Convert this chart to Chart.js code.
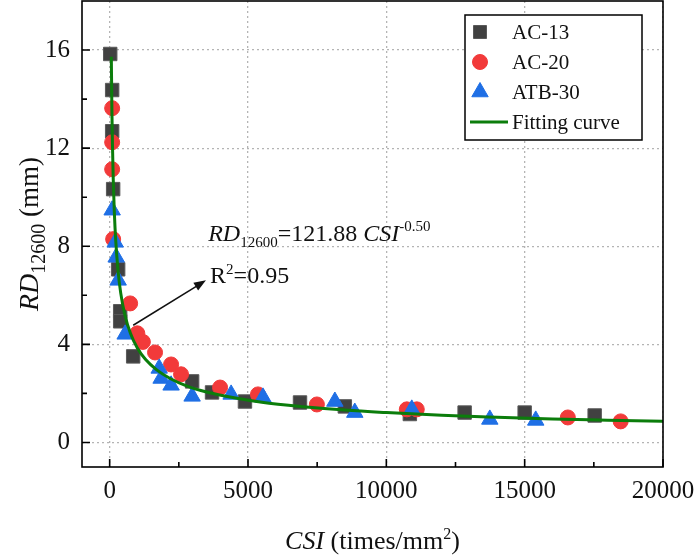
<!DOCTYPE html>
<html>
<head>
<meta charset="utf-8">
<script src="https://cdn.jsdelivr.net/npm/chart.js@4.4.0/dist/chart.umd.min.js"></script>
<style>
  html, body { margin: 0; padding: 0; background: #fff; }
</style>
</head>
<body>
<canvas id="chart" width="700" height="559"></canvas>
<script>
// values
var ac13X = [20, 90, 90, 126, 307, 380, 380, 850, 2980, 3700, 4890, 6880, 8500, 10850, 12830, 15000, 17530];
var ac13Y = [15.84, 14.37, 12.69, 10.33, 7.06, 5.35, 4.94, 3.51, 2.49, 2.04, 1.67, 1.63, 1.47, 1.16, 1.22, 1.22, 1.10];

var ac20X = [90, 90, 90, 126, 740, 1000, 1200, 1640, 2220, 2580, 3990, 5360, 7490, 10740, 11100, 16560, 18470];
var ac20Y = [13.63, 12.24, 11.14, 8.29, 5.67, 4.45, 4.10, 3.67, 3.18, 2.78, 2.24, 1.96, 1.55, 1.35, 1.35, 1.02, 0.86];

var atb30X = [90, 200, 235, 307, 560, 1790, 1860, 2220, 2980, 4390, 5540, 8140, 8860, 10920, 13740, 15400];
var atb30Y = [9.47, 8.16, 7.55, 6.61, 4.41, 3.02, 2.61, 2.33, 1.88, 1.96, 1.84, 1.67, 1.22, 1.35, 0.94, 0.90];

var fitX = [60, 80, 100, 130, 170, 220, 300, 400, 550, 750, 1000, 1300, 1700, 2200, 2800, 3500, 4500, 5500, 7000, 8500, 10000, 12000, 14000, 16000, 18000, 20000];
var fitY = [15.73, 13.63, 12.19, 10.69, 9.35, 8.22, 7.04, 6.09, 5.20, 4.45, 3.85, 3.38, 2.96, 2.60, 2.30, 2.06, 1.82, 1.64, 1.46, 1.32, 1.22, 1.11, 1.03, 0.96, 0.91, 0.86];

var xTicks = [0, 5000, 10000, 15000, 20000];
var xMinor = [2500, 7500, 12500, 17500];
var yTicks = [0, 4, 8, 12, 16];
var yMinor = [2, 6, 10, 14];

var seriesNames = ["AC-13", "AC-20", "ATB-30", "Fitting curve"];

var SERIF = "'Liberation Serif', 'Times New Roman', serif";
var GREEN = "#0b7d0b";

function pts(xs, ys) {
	var out = [];
	for (let i = 0; i < xs.length; i++) {
		out.push({x: xs[i], y: ys[i]});
	}
	return out;
}

// text made of pieces (italic, sub, sup)
function runsWidth(ctx, runs) {
	var w = 0;
	runs.forEach(function(r) {
		ctx.font = r.font;
		w += ctx.measureText(r.t).width;
	});
	return w;
}
function drawRuns(ctx, runs, x, y) {
	runs.forEach(function(r) {
		ctx.font = r.font;
		ctx.fillText(r.t, x, y + (r.dy || 0));
		x += ctx.measureText(r.t).width;
	});
}

var extras = {
	id: "extras",
	afterDraw: function(chart) {
		var ctx = chart.ctx;
		var a = chart.chartArea;
		var xs = chart.scales.x, ys = chart.scales.y;
		ctx.save();

		// frame
		ctx.strokeStyle = "#000";
		ctx.lineWidth = 1.6;
		ctx.strokeRect(a.left, a.top, a.right - a.left, a.bottom - a.top);

		// inward ticks
		ctx.beginPath();
		xTicks.forEach(function(v) {
			var p = xs.getPixelForValue(v);
			ctx.moveTo(p, a.bottom); ctx.lineTo(p, a.bottom - 8);
		});
		xMinor.forEach(function(v) {
			var p = xs.getPixelForValue(v);
			ctx.moveTo(p, a.bottom); ctx.lineTo(p, a.bottom - 5);
		});
		yTicks.forEach(function(v) {
			var p = ys.getPixelForValue(v);
			ctx.moveTo(a.left, p); ctx.lineTo(a.left + 8, p);
		});
		yMinor.forEach(function(v) {
			var p = ys.getPixelForValue(v);
			ctx.moveTo(a.left, p); ctx.lineTo(a.left + 5, p);
		});
		ctx.stroke();

		ctx.fillStyle = "#111";
		ctx.textBaseline = "alphabetic";
		ctx.textAlign = "left";

		// y title
		var yRuns = [
			{t: "RD", font: "italic 28px " + SERIF},
			{t: "12600", font: "20px " + SERIF, dy: 7},
			{t: " (mm)", font: "27px " + SERIF}
		];
		ctx.save();
		ctx.translate(38, (a.top + a.bottom) / 2);
		ctx.rotate(-Math.PI / 2);
		drawRuns(ctx, yRuns, -runsWidth(ctx, yRuns) / 2, 0);
		ctx.restore();

		// x title
		var xRuns = [
			{t: "CSI", font: "italic 26px " + SERIF},
			{t: " (times/mm", font: "26px " + SERIF},
			{t: "2", font: "16px " + SERIF, dy: -10},
			{t: ")", font: "26px " + SERIF}
		];
		drawRuns(ctx, xRuns, (a.left + a.right) / 2 - runsWidth(ctx, xRuns) / 2, 549);

		// fitted equation and arrow
		var eqRuns = [
			{t: "RD", font: "italic 24px " + SERIF},
			{t: "12600", font: "15px " + SERIF, dy: 6},
			{t: "=121.88 ", font: "24px " + SERIF},
			{t: "CSI", font: "italic 24px " + SERIF},
			{t: "-0.50", font: "15px " + SERIF, dy: -10}
		];
		drawRuns(ctx, eqRuns, xs.getPixelForValue(3560), ys.getPixelForValue(8.2));
		var r2Runs = [
			{t: "R", font: "24px " + SERIF},
			{t: "2", font: "15px " + SERIF, dy: -9},
			{t: "=0.95", font: "24px " + SERIF}
		];
		drawRuns(ctx, r2Runs, xs.getPixelForValue(3630), ys.getPixelForValue(6.5));

		var x0 = xs.getPixelForValue(850), y0 = ys.getPixelForValue(4.78);
		var x1 = xs.getPixelForValue(3480), y1 = ys.getPixelForValue(6.61);
		var ang = Math.atan2(y1 - y0, x1 - x0);
		ctx.strokeStyle = "#111";
		ctx.lineWidth = 1.5;
		ctx.beginPath();
		ctx.moveTo(x0, y0);
		ctx.lineTo(x1 - 8 * Math.cos(ang), y1 - 8 * Math.sin(ang));
		ctx.stroke();
		ctx.beginPath();
		ctx.moveTo(x1, y1);
		ctx.lineTo(x1 - 12 * Math.cos(ang) + 4.5 * Math.sin(ang), y1 - 12 * Math.sin(ang) - 4.5 * Math.cos(ang));
		ctx.lineTo(x1 - 12 * Math.cos(ang) - 4.5 * Math.sin(ang), y1 - 12 * Math.sin(ang) + 4.5 * Math.cos(ang));
		ctx.closePath();
		ctx.fill();

		// legend
		var lx = 465, ly = 15, lw = 177, lh = 125;
		ctx.fillStyle = "#fff";
		ctx.fillRect(lx, ly, lw, lh);
		ctx.strokeStyle = "#000";
		ctx.lineWidth = 1.5;
		ctx.strokeRect(lx, ly, lw, lh);
		var ds = chart.data.datasets;
		for (let i = 0; i < seriesNames.length; i++) {
			var cy = 32 + i * 30;
			var cx = 480;
			ctx.fillStyle = ds[i].backgroundColor;
			ctx.strokeStyle = ds[i].borderColor;
			ctx.lineWidth = 1;
			ctx.beginPath();
			if (ds[i].pointStyle === "rect") {
				ctx.rect(cx - 6.5, cy - 6.5, 13, 13);
				ctx.fill(); ctx.stroke();
			} else if (ds[i].pointStyle === "circle") {
				ctx.arc(cx, cy, 7.5, 0, Math.PI * 2);
				ctx.fill(); ctx.stroke();
			} else if (ds[i].pointStyle === "triangle") {
				ctx.moveTo(cx, cy - 9.5);
				ctx.lineTo(cx + 8.2, cy + 4.75);
				ctx.lineTo(cx - 8.2, cy + 4.75);
				ctx.closePath();
				ctx.fill(); ctx.stroke();
			} else {
				ctx.strokeStyle = GREEN;
				ctx.lineWidth = 3;
				ctx.moveTo(470, cy);
				ctx.lineTo(508, cy);
				ctx.stroke();
			}
			ctx.fillStyle = "#111";
			ctx.font = "21px " + SERIF;
			ctx.textBaseline = "middle";
			ctx.fillText(seriesNames[i], 512, cy + 1);
		}
		ctx.restore();
	}
};

var axisFont = {family: SERIF, size: 25};

var chart = new Chart(document.getElementById("chart"), {
	type: "scatter",
	data: {
		datasets: [{
			label: seriesNames[0],
			data: pts(ac13X, ac13Y),
			pointStyle: "rect",
			pointRadius: 9.5,
			backgroundColor: "#414141",
			borderColor: "#5a5a5a",
			borderWidth: 1,
			order: 3
		}, {
			label: seriesNames[1],
			data: pts(ac20X, ac20Y),
			pointStyle: "circle",
			pointRadius: 7.5,
			backgroundColor: "#f23a3a",
			borderColor: "#f23a3a",
			borderWidth: 1,
			order: 2
		}, {
			label: seriesNames[2],
			data: pts(atb30X, atb30Y),
			pointStyle: "triangle",
			pointRadius: 9.5,
			backgroundColor: "#1f6fe5",
			borderColor: "#1f6fe5",
			borderWidth: 1,
			order: 1
		}, {
			type: "line",
			label: seriesNames[3],
			data: pts(fitX, fitY),
			showLine: true,
			borderColor: GREEN,
			backgroundColor: GREEN,
			borderWidth: 3,
			pointRadius: 0,
			cubicInterpolationMode: "monotone",
			fill: false,
			order: 0
		}]
	},
	options: {
		responsive: false,
		animation: false,
		layout: {
			autoPadding: false,
			padding: {top: 1, right: 37, left: 0, bottom: 0}
		},
		plugins: {
			legend: {display: false},
			tooltip: {enabled: false}
		},
		scales: {
			x: {
				type: "linear",
				min: -1000,
				max: 20000,
				afterBuildTicks: function(axis) {
					axis.ticks = xTicks.map(function(v) { return {value: v}; });
				},
				afterFit: function(axis) {
					axis.height = 92;
					axis.paddingLeft = 0;
					axis.paddingRight = 0;
				},
				grid: {color: "#b4b4b4", lineWidth: 1.3, drawTicks: false},
				border: {display: false, dash: [2, 3]},
				ticks: {
					font: axisFont,
					color: "#111",
					padding: 9,
					maxRotation: 0,
					autoSkip: false,
					callback: function(v) { return String(v); }
				}
			},
			y: {
				type: "linear",
				min: -1,
				max: 18,
				afterBuildTicks: function(axis) {
					axis.ticks = yTicks.map(function(v) { return {value: v}; });
				},
				afterFit: function(axis) {
					axis.width = 82;
					axis.paddingTop = 0;
					axis.paddingBottom = 0;
				},
				grid: {color: "#b4b4b4", lineWidth: 1.3, drawTicks: false},
				border: {display: false, dash: [2, 3]},
				ticks: {
					font: axisFont,
					color: "#111",
					padding: 12,
					autoSkip: false,
					callback: function(v) { return String(v); }
				}
			}
		}
	},
	plugins: [extras]
});
</script>
</body>
</html>
